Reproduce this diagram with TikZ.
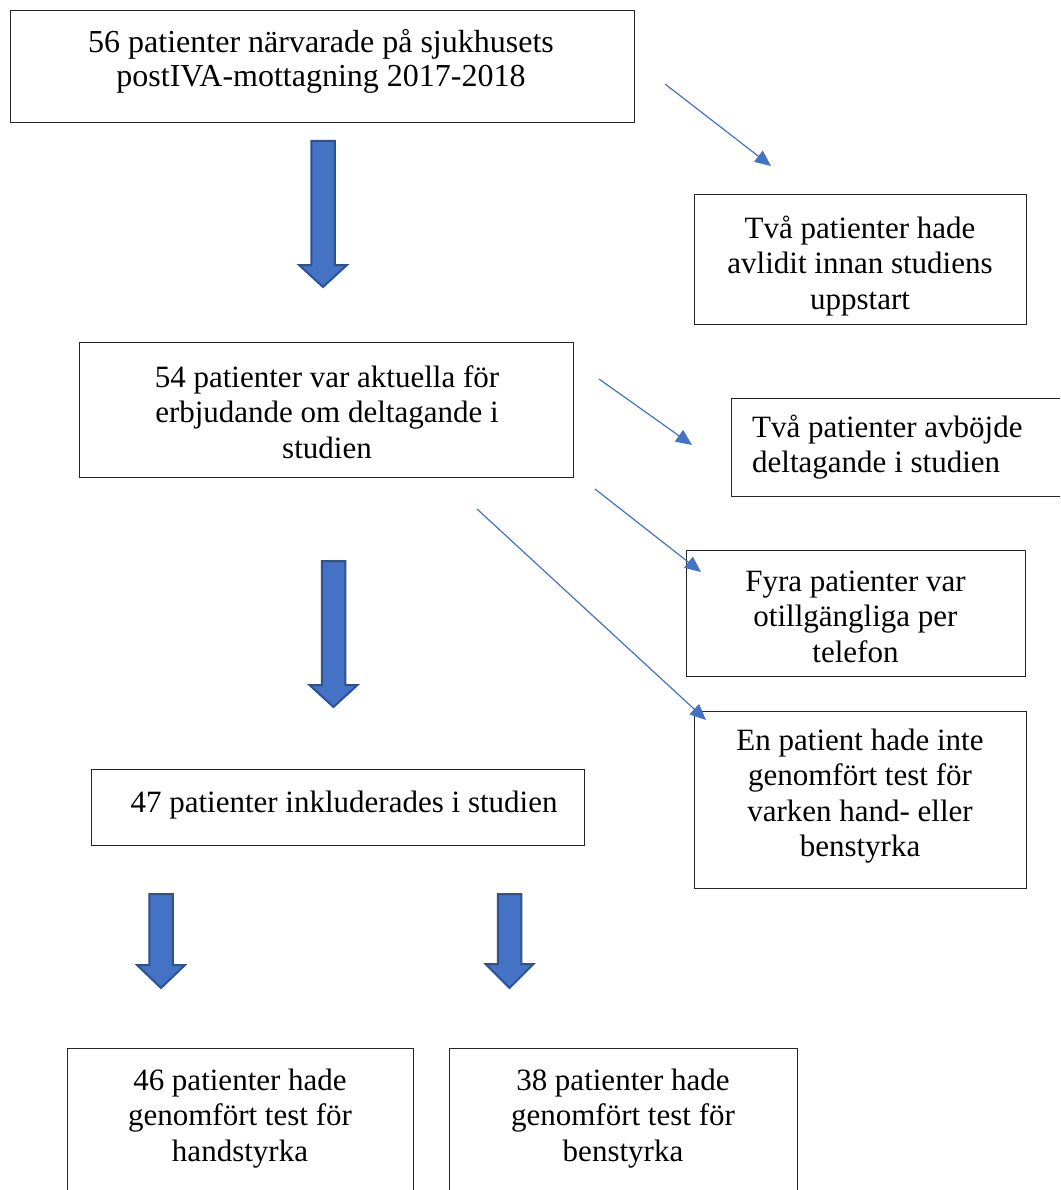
\documentclass[tikz,border=0pt]{standalone}
\usepackage{fontspec}
\setmainfont{Liberation Serif}
\usetikzlibrary{arrows.meta}
\definecolor{accent}{HTML}{4472C4}
\definecolor{accentdark}{HTML}{2F528F}
\newcommand\BlockArr[4]{% center x, top, head base, tip
  \path[barrow] ({#1-11.75},#2) -- ({#1+11.75},#2) -- ({#1+11.75},#3) -- ({#1+24},#3)
    -- (#1,#4) -- ({#1-24},#3) -- ({#1-11.75},#3) -- cycle;}
\begin{document}
\begin{tikzpicture}[x=1pt,y=-1pt,
  box/.style={draw=black!85, line width=1.4pt, anchor=north west, inner sep=0pt},
  txt/.style={align=center, inner sep=0pt, anchor=north, font=\fontsize{31}{35.5}\selectfont},
  feed/.style={draw=accent, line width=1.2pt, -{Triangle[length=16pt,width=14pt]}},
  barrow/.style={fill=accent, draw=accentdark, line width=2pt, line join=miter}]
\useasboundingbox (0,0) rectangle (1060,1190);
\clip (0,0) rectangle (1060,1190);
\fill[white] (0,0) rectangle (1060,1190);

% boxes
\node[box, minimum width=624pt, minimum height=112pt] (b1) at (10,10) {};
\node[box, minimum width=332pt, minimum height=130pt] (b2) at (694,194) {};
\node[box, minimum width=494pt, minimum height=135pt] (b3) at (79,342) {};
\node[box, minimum width=360pt, minimum height=98pt]  (b4) at (731,398) {};
\node[box, minimum width=339pt, minimum height=126pt] (b5) at (686,550) {};
\node[box, minimum width=332pt, minimum height=177pt] (b6) at (694,711) {};
\node[box, minimum width=493pt, minimum height=76pt]  (b7) at (91,769) {};
\node[box, minimum width=346pt, minimum height=160pt] (b8) at (67,1048) {};
\node[box, minimum width=348pt, minimum height=160pt] (b9) at (449,1048) {};

% texts
\node[txt, font=\fontsize{32}{34}\selectfont] (t1) at (321,28) {\rule{0pt}{24pt}56 patienter närvarade på sjukhusets\\postIVA-mottagning 2017-2018};
\node[txt] (t2) at (860,214) {\rule{0pt}{24pt}Två patienter hade\\avlidit innan studiens\\uppstart};
\node[txt] (t3) at (327,363) {\rule{0pt}{24pt}54 patienter var aktuella för\\erbjudande om deltagande i\\studien};
\node[txt, align=left, anchor=north west] (t4) at (752,413) {\rule{0pt}{24pt}Två patienter avböjde\\deltagande i studien};
\node[txt] (t5) at (855.5,567) {\rule{0pt}{24pt}Fyra patienter var\\otillgängliga per\\telefon};
\node[txt] (t6) at (860,726) {\rule{0pt}{24pt}En patient hade inte\\genomfört test för\\varken hand- eller\\benstyrka};
\node[txt] (t7) at (344,788) {\rule{0pt}{24pt}47 patienter inkluderades i studien};
\node[txt] (t8) at (240,1066) {\rule{0pt}{24pt}46 patienter hade\\genomfört test för\\handstyrka};
\node[txt] (t9) at (623,1066) {\rule{0pt}{24pt}38 patienter hade\\genomfört test för\\benstyrka};

% block arrows
\BlockArr{323}{141}{265}{287}
\BlockArr{333.5}{561}{685}{707}
\BlockArr{161}{894}{965}{988}
\BlockArr{509.5}{894}{964}{988}

% thin arrows
\coordinate (a1s) at (665,84);  \coordinate (a1e) at (771,166);
\coordinate (a2s) at (599,379); \coordinate (a2e) at (692,445);
\coordinate (a3s) at (595,489); \coordinate (a3e) at (701,572);
\coordinate (a4s) at (477,509); \coordinate (a4e) at (706,720);
\draw[feed] (a1s) -- (a1e);
\draw[feed] (a2s) -- (a2e);
\draw[feed] (a3s) -- (a3e);
\draw[feed] (a4s) -- (a4e);
\end{tikzpicture}
\end{document}
